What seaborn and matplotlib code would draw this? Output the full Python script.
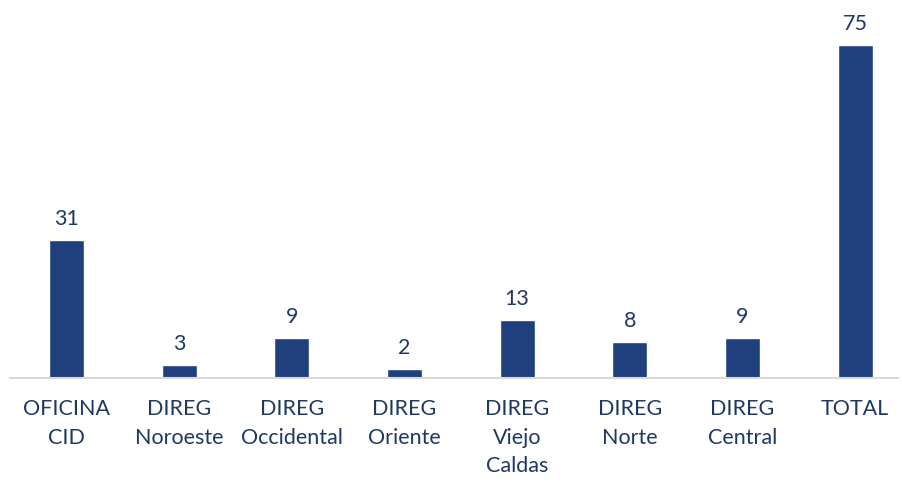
import seaborn as sns
import pandas as pd
import matplotlib.pyplot as plt

categories = ["OFICINA\nCID", "DIREG\nNoroeste", "DIREG\nOccidental", "DIREG\nOriente",
              "DIREG\nViejo\nCaldas", "DIREG\nNorte", "DIREG\nCentral", "TOTAL"]
values = [31, 3, 9, 2, 13, 8, 9, 75]

bar_color = "#203F7D"
text_color = "#1F3864"

df = pd.DataFrame({"categoria": categories, "valor": values})

sns.set_style("white")
plt.rcParams["font.family"] = ["Lato", "DejaVu Sans"]

fig = plt.figure(figsize=(9.03, 4.82), dpi=100)
ax = fig.add_axes([10 / 903, 104 / 482, 888 / 903, 368 / 482])

sns.barplot(data=df, x="categoria", y="valor", color=bar_color,
            width=0.31, saturation=1, ax=ax)

for i, v in enumerate(values):
    ax.annotate(str(v), (i, v), xytext=(0, 8), textcoords="offset points",
                ha="center", va="bottom", fontsize=15.5, color=text_color)

ax.set_ylim(0, 75 * 368 / 333)
ax.set_xlim(-0.5, len(categories) - 0.62)
ax.set_xlabel("")
ax.set_ylabel("")
ax.set_yticks([])
ax.tick_params(axis="x", length=0, pad=15, labelsize=15.5, labelcolor=text_color)
for lbl in ax.get_xticklabels():
    lbl.set_linespacing(1.55)
    lbl.set_verticalalignment("top")

for s in ["top", "right", "left"]:
    ax.spines[s].set_visible(False)
ax.spines["bottom"].set_color("#D9D9D9")
ax.spines["bottom"].set_linewidth(1.5)

fig.savefig("out.png", dpi=100, facecolor="white")
